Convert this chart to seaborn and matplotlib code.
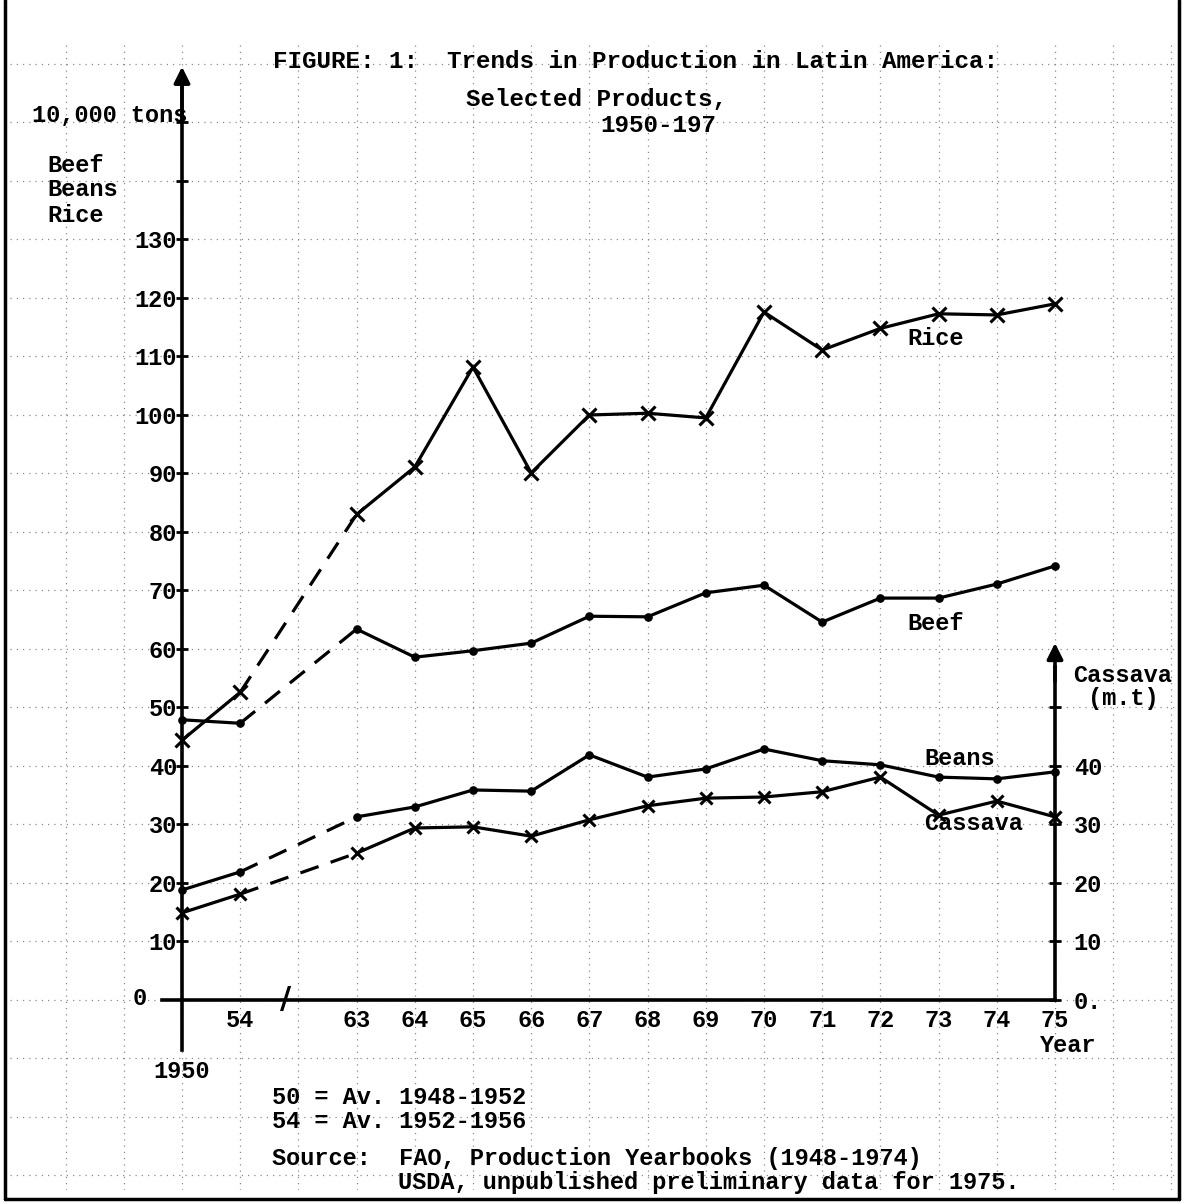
import pandas as pd
import matplotlib.pyplot as plt
import seaborn as sns
from matplotlib.ticker import MultipleLocator
from matplotlib.lines import Line2D

# data (10,000 tons; cassava in m.t on right axis)
years = ['1950', '54', '63', '64', '65', '66', '67', '68', '69', '70', '71', '72', '73', '74', '75']
rice = [44.4, 52.6, 83.0, 91.1, 108.2, 90.1, 100.0, 100.3, 99.5, 117.6, 111.1, 114.8, 117.3, 117.1, 119.0]
beef = [47.9, 47.3, 63.4, 58.6, 59.7, 61.0, 65.6, 65.5, 69.6, 70.9, 64.6, 68.7, 68.7, 71.1, 74.2]
beans = [18.8, 21.9, 31.3, 33.0, 35.9, 35.7, 41.9, 38.1, 39.5, 42.9, 40.9, 40.2, 38.1, 37.8, 39.0]
cassava = [14.9, 18.1, 25.1, 29.4, 29.6, 28.0, 30.8, 33.2, 34.5, 34.7, 35.6, 38.1, 31.6, 34.0, 31.3]

left_ticks = [10, 20, 30, 40, 50, 60, 70, 80, 90, 100, 110, 120, 130, 140, 150]
left_labels = ['10', '20', '30', '40', '50', '60', '70', '80', '90', '100', '110', '120', '130', '', '']
right_ticks = [0, 10, 20, 30, 40, 50]
right_labels = ['0.', '10', '20', '30', '40', '']

# axis break between 54 and 63 -> leave one empty slot
pos = [0, 1] + list(range(3, 16))

df = pd.DataFrame({'year': years, 'pos': pos, 'Rice': rice, 'Beef': beef,
                   'Beans': beans, 'Cassava': cassava})
long = df.melt(id_vars=['year', 'pos'], var_name='product', value_name='value')

sns.set_theme(style='white')
plt.rcParams['font.family'] = ['Liberation Mono', 'DejaVu Sans Mono']
plt.rcParams['font.weight'] = 'bold'
plt.rcParams['text.color'] = 'black'

W, H = 1184, 1204
fig = plt.figure(figsize=(W / 100, H / 100), dpi=100)
ax = fig.add_axes([10 / W, 14 / H, 1165 / W, 1150 / H])
ax.set_xlim(-2.955, 17.062)
ax.set_ylim(-32.48, 164.1)

# faint graph-paper grid (one column per year slot, one row per 10 units)
ax.xaxis.set_minor_locator(MultipleLocator(1))
ax.yaxis.set_minor_locator(MultipleLocator(10))
ax.grid(which='both', color='#8c8c8c', linestyle=(0, (1, 4)), lw=0.9)
ax.set_axisbelow(True)

markers = {'Rice': 'x', 'Beef': 'o', 'Beans': 'o', 'Cassava': 'x'}
msize = {'Rice': 10, 'Beef': 4, 'Beans': 4, 'Cassava': 9}
for p in ['Rice', 'Beef', 'Beans', 'Cassava']:
    sub = long[long['product'] == p].reset_index(drop=True)
    kw = dict(x='pos', y='value', color='black', lw=2.3, ax=ax, legend=False)
    sns.lineplot(data=sub.iloc[:2], marker=markers[p], ms=msize[p], mew=2.2, mec='black', **kw)
    sns.lineplot(data=sub.iloc[1:3], linestyle=(0, (6, 4)), **kw)
    sns.lineplot(data=sub.iloc[2:], marker=markers[p], ms=msize[p], mew=2.2, mec='black', **kw)
ax.set_xlabel('')
ax.set_ylabel('')

# axes drawn through the origin like the typed original
for s in ['top', 'right']:
    ax.spines[s].set_visible(False)
ax.spines['left'].set_position(('data', 0))
ax.spines['left'].set_bounds(-8.5, 156)
ax.spines['bottom'].set_position(('data', 0))
ax.spines['bottom'].set_bounds(-0.35, 15)
for s in ['left', 'bottom']:
    ax.spines[s].set_linewidth(2.6)
    ax.spines[s].set_color('black')

ax.set_yticks(left_ticks)
ax.set_yticklabels(left_labels)
ax.set_xticks(pos[1:])
ax.set_xticklabels(years[1:])
ax.tick_params(axis='y', which='major', direction='inout', length=9, width=2, pad=-1,
               labelsize=17, colors='black')
ax.tick_params(axis='x', which='major', direction='inout', length=9, width=2, pad=2,
               labelsize=17, colors='black')
ax.tick_params(which='minor', length=0)
ax.annotate('', xy=(0, 160), xytext=(0, 150),
            arrowprops=dict(arrowstyle='-|>', color='black', lw=2.6, mutation_scale=24))
ax.text(-0.6, 0.3, '0', ha='right', va='center', fontsize=17)
ax.text(1.78, 0, '/', ha='center', va='center', fontsize=22, family='DejaVu Sans', weight='bold')

# right axis for cassava
ax2 = ax.twinx()
ax2.set_ylim(ax.get_ylim())
ax2.grid(False)
for s in ['top', 'left', 'bottom']:
    ax2.spines[s].set_visible(False)
ax2.spines['right'].set_position(('data', 15))
ax2.spines['right'].set_bounds(0, 57)
ax2.spines['right'].set_linewidth(2.6)
ax2.spines['right'].set_color('black')
ax2.set_yticks(right_ticks)
ax2.set_yticklabels(right_labels)
ax2.tick_params(axis='y', direction='inout', length=9, width=2, pad=9, labelsize=17, colors='black')
ax2.annotate('', xy=(15, 61.5), xytext=(15, 54),
             arrowprops=dict(arrowstyle='-|>', color='black', lw=2.6, mutation_scale=24))

# series labels
ax.text(12.47, 113, 'Rice', ha='left', va='center', fontsize=17)
ax.text(12.47, 64.4, 'Beef', ha='left', va='center', fontsize=17)
ax.text(12.75, 41.2, 'Beans', ha='left', va='center', fontsize=17)
ax.text(12.75, 30.2, 'Cassava', ha='left', va='center', fontsize=17)


def ftext(x, y, s, size=17, **kw):
    fig.text(x / W, 1 - y / H, s, va='center', ha='left', fontsize=size, **kw)


ftext(273, 62, 'FIGURE: 1:  Trends in Production in Latin America:', size=17.5)
ftext(466, 99, 'Selected Products,', size=17.5)
ftext(600, 125, '1950-197', size=17.5)
ftext(32, 115, '10,000 tons')
ftext(47, 165, 'Beef')
ftext(47, 190, 'Beans')
ftext(47, 215, 'Rice')
ftext(1073, 675, 'Cassava')
ftext(1088, 698, '(m.t)')
ftext(1040, 1045, 'Year')
ftext(153, 1071, '1950')
ftext(272, 1098, '50 = Av. 1948-1952')
ftext(272, 1122, '54 = Av. 1952-1956')
ftext(272, 1158, 'Source:  FAO, Production Yearbooks (1948-1974)')
ftext(398, 1182, 'USDA, unpublished preliminary data for 1975.')

# page border (left, bottom, right)
for xs, ys in [([5, 5], [0, 1199]), ([5, 1179], [1199, 1199]), ([1179, 1179], [0, 1199])]:
    fig.add_artist(Line2D([x / W for x in xs], [1 - y / H for y in ys],
                          transform=fig.transFigure, color='black', lw=2.5))

fig.savefig('out.png', dpi=100)
